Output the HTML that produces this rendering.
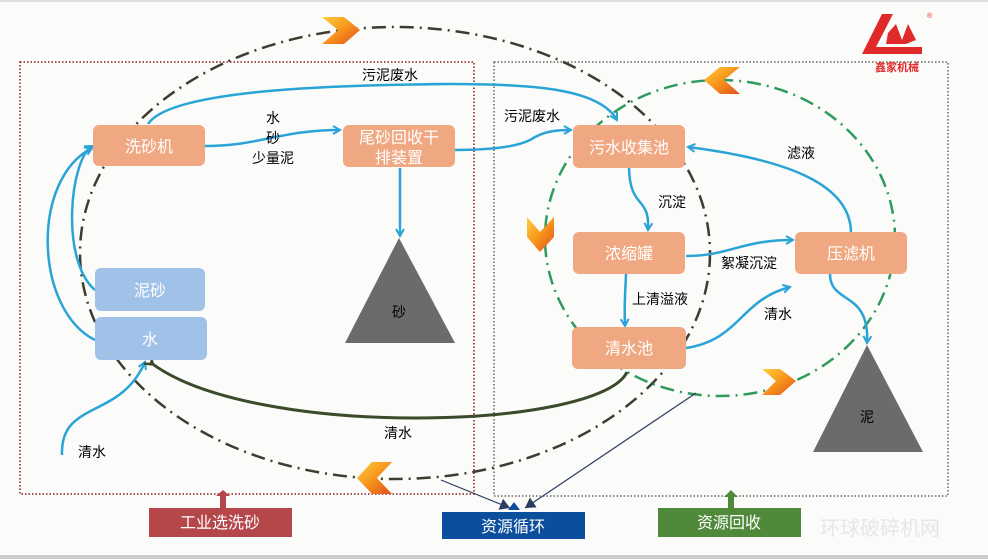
<!DOCTYPE html>
<html><head><meta charset="utf-8"><style>
body{margin:0;background:#fbfbf9;}
svg{display:block;font-family:"Liberation Sans","Noto Sans CJK SC",sans-serif;}
</style></head><body>
<svg width="988" height="559" viewBox="0 0 988 559" xmlns="http://www.w3.org/2000/svg">
<defs>
<marker id="ab" markerWidth="10" markerHeight="10" refX="8" refY="5" orient="auto" markerUnits="userSpaceOnUse"><path d="M1,1 L8,5 L1,9" fill="none" stroke="#2aa3d6" stroke-width="2"/></marker>
<marker id="ad" markerWidth="12" markerHeight="12" refX="10" refY="6" orient="auto" markerUnits="userSpaceOnUse"><path d="M0,0 L10,6 L0,12 z" fill="#2b3d5e"/></marker>
<marker id="ao" markerWidth="12" markerHeight="12" refX="6" refY="6" orient="auto" markerUnits="userSpaceOnUse"><path d="M10,1 L2,6 L10,11" fill="none" stroke="#3a4a2a" stroke-width="2.5"/></marker>
<linearGradient id="cg" x1="0" y1="0" x2="1" y2="1"><stop offset="0" stop-color="#ffcf3a"/><stop offset="0.5" stop-color="#f7941d"/><stop offset="1" stop-color="#e0501a"/></linearGradient>
</defs>
<rect x="0" y="0" width="988" height="2" fill="#ddd"/>
<rect x="0" y="555" width="988" height="4" fill="#ccc"/>
<rect x="20" y="62" width="454" height="432" fill="none" stroke="#8b1a1a" stroke-width="1.5" stroke-dasharray="1.5,2"/>
<rect x="494" y="62" width="454" height="434" fill="none" stroke="#666" stroke-width="1.5" stroke-dasharray="1.5,2"/>
<ellipse cx="395" cy="253" rx="315" ry="226" fill="none" stroke="#3c3c30" stroke-width="2.5" stroke-dasharray="14,6,2,6"/>
<ellipse cx="720" cy="238" rx="175" ry="158" fill="none" stroke="#2f9a5e" stroke-width="2.5" stroke-dasharray="14,6,2,6"/>
<g fill="none" stroke="#2aa3d6" stroke-width="2.5">
<path d="M148,124 C170,90 330,85 450,84 C540,84 600,90 617,120" marker-end="url(#ab)"/>
<path d="M205,146 C260,146 280,130 340,130" marker-end="url(#ab)"/>
<path d="M455,150 C500,150 520,145 530,140 C545,130 560,130 571,130" marker-end="url(#ab)"/>
<path d="M400,168 L400,236" marker-end="url(#ab)"/>
<path d="M629,168 C630,210 650,195 648,230" marker-end="url(#ab)"/>
<path d="M686,256 C730,256 740,240 793,240" marker-end="url(#ab)"/>
<path d="M851,232 C850,185 790,160 688,147" marker-end="url(#ab)"/>
<path d="M626,274 C625,300 624,305 625,326" marker-end="url(#ab)"/>
<path d="M686,348 C740,340 740,300 790,287" marker-end="url(#ab)"/>
<path d="M830,274 C830,305 870,290 867,343" marker-end="url(#ab)"/>
<path d="M95,290 C60,260 70,160 92,146" marker-end="url(#ab)"/>
<path d="M95,340 C35,310 30,180 92,148" marker-end="url(#ab)"/>
<path d="M62,455 C60,400 120,420 145,362" marker-end="url(#ab)"/>
</g>
<path d="M627,372 C600,430 250,440 150,362" fill="none" stroke="#3a4a2a" stroke-width="3" marker-end="url(#ao)"/>
<path d="M441,480 L510,508" fill="none" stroke="#2b3d5e" stroke-width="1.2" marker-end="url(#ad)"/>
<path d="M696,393 L525,508" fill="none" stroke="#2b3d5e" stroke-width="1.2" marker-end="url(#ad)"/>
<g fill="#f0a882">
<rect x="93" y="125" width="112" height="41" rx="6"/>
<rect x="343" y="125" width="112" height="42" rx="6"/>
<rect x="573" y="125" width="112" height="43" rx="6"/>
<rect x="573" y="232" width="112" height="42" rx="6"/>
<rect x="795" y="232" width="112" height="42" rx="6"/>
<rect x="572" y="327" width="114" height="42" rx="6"/>
</g>
<g fill="#a0c2e8">
<rect x="95" y="268" width="110" height="43" rx="6"/>
<rect x="95" y="317" width="112" height="43" rx="6"/>
</g>
<path d="M399,238 L455,343 L345,343 z" fill="#6b6b6b"/>
<path d="M867,345 L923,452 L813,452 z" fill="#6b6b6b"/>
<g fill="#fff" font-size="16" text-anchor="middle">
<text x="149" y="152">洗砂机</text>
<text x="399" y="143">尾砂回收干</text>
<text x="399" y="163">排装置</text>
<text x="629" y="153">污水收集池</text>
<text x="629" y="259">浓缩罐</text>
<text x="851" y="259">压滤机</text>
<text x="629" y="354">清水池</text>
<text x="150" y="296">泥砂</text>
<text x="150" y="345">水</text>
</g>
<g fill="#000" font-size="14" text-anchor="middle">
<text x="399" y="317">砂</text>
<text x="867" y="422">泥</text>
<text x="390" y="80">污泥废水</text>
<text x="273" y="123">水</text>
<text x="273" y="143">砂</text>
<text x="273" y="163">少量泥</text>
<text x="532" y="121">污泥废水</text>
<text x="672" y="207">沉淀</text>
<text x="801" y="158">滤液</text>
<text x="749" y="268">絮凝沉淀</text>
<text x="660" y="304">上清溢液</text>
<text x="778" y="319">清水</text>
<text x="398" y="438">清水</text>
<text x="92" y="457">清水</text>
</g>
<g fill="url(#cg)">
<path d="M322,17 L344,17 L360,30 L344,44 L322,44 L338,30 z"/>
<path d="M740,67 L720,67 L704,80 L720,94 L740,94 L724,80 z"/>
<path d="M527,217 L527,237 L540,252 L554,237 L554,217 L540,232 z"/>
<path d="M762,369 L780,369 L796,381 L780,395 L762,395 L776,381 z"/>
<path d="M392,462 L372,462 L357,478 L372,494 L392,494 L377,478 z"/>
</g>
<g fill="#b5474b"><rect x="149" y="508" width="143" height="29"/><path d="M216,496 L223,490 L230,496 L226,496 L226,508 L220,508 L220,496z"/></g>
<rect x="442" y="512" width="143" height="27" fill="#0b4f9c"/>
<path d="M508,510 L514,502 L520,510 z" fill="#0b4f9c"/>
<g fill="#4f8a3a"><rect x="658" y="508" width="143" height="29"/><path d="M724,497 L731,490 L738,497 L734,497 L734,508 L728,508 L728,497z"/></g>
<g fill="#fff" font-size="16" text-anchor="middle">
<text x="220" y="528">工业选洗砂</text>
<text x="513" y="532">资源循环</text>
<text x="729" y="528">资源回收</text>
</g>
<text x="880" y="535" font-size="20" fill="#e6e6e6" text-anchor="middle">环球破碎机网</text>
<path d="M882,14 L893,14 L876,47 L922,47 L922,54 L862,54 z" fill="#e02a2a"/>
<path d="M888,33 L896,24 L902,40 L908,24 L916,40 L906,44 L886,44 z" fill="#e02a2a"/>
<text x="927" y="18" font-size="7" fill="#e02a2a">®</text>
<text x="897" y="71" font-size="11" fill="#e02a2a" text-anchor="middle" font-weight="bold">鑫家机械</text>
</svg>
</body></html>
